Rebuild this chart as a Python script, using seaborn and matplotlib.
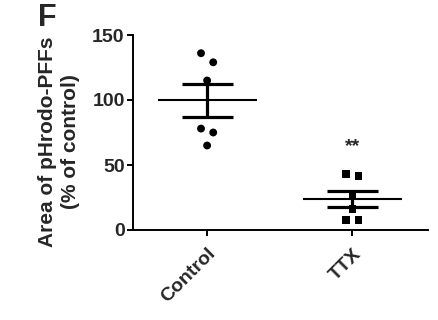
import numpy as np
import pandas as pd
import matplotlib
matplotlib.use("Agg")
import matplotlib.pyplot as plt
import seaborn as sns

# ---- data ----
groups = ["Control", "TTX"]
control_vals = [136, 129, 115, 78, 75, 65]
ttx_vals = [43, 41.5, 27, 16, 8, 8]
y_ticks = [0, 50, 100, 150]
y_label = "Area of pHrodo-PFFs\n(% of control)"
panel_letter = "F"
sig_label = "**"

sns.set_style("ticks")
plt.rcParams["font.family"] = ["Liberation Sans", "DejaVu Sans"]
plt.rcParams["font.weight"] = "bold"


def spread(vals, thresh=8.0, step=0.042):
    """symmetric horizontal spread for near-equal values (GraphPad-like)."""
    order = np.argsort(vals)[::-1]
    offs = np.zeros(len(vals))
    i = 0
    while i < len(order):
        j = i + 1
        if j < len(order) and abs(vals[order[i]] - vals[order[j]]) < thresh:
            offs[order[i]] = -step
            offs[order[j]] = step
            i += 2
        else:
            i += 1
    return offs


rows = []
for gi, (g, vals) in enumerate(zip(groups, [control_vals, ttx_vals])):
    offs = spread(np.array(vals, dtype=float))
    for v, o in zip(vals, offs):
        rows.append({"group": g, "x": gi + o, "value": v})
df = pd.DataFrame(rows)

fig = plt.figure(figsize=(4.38, 3.2), dpi=100)
ax = fig.add_axes([133 / 438, 1 - 230 / 320, 295 / 438, 195 / 320])

sns.scatterplot(data=df, x="x", y="value", style="group", markers={"Control": "o", "TTX": "s"},
                color="black", s=32, linewidth=0, legend=False, ax=ax, clip_on=False, zorder=3)

for gi, vals in enumerate([control_vals, ttx_vals]):
    v = np.array(vals, dtype=float)
    m = v.mean()
    se = v.std(ddof=1) / np.sqrt(len(v))
    ax.hlines(m, gi - 0.34, gi + 0.34, color="black", lw=1.5, zorder=4)
    ax.hlines([m - se, m + se], gi - 0.175, gi + 0.175, color="black", lw=2.3, zorder=4)
    ax.vlines(gi, m - se, m + se, color="black", lw=2.3, zorder=4)

ax.text(1, 61, sig_label, ha="center", va="baseline", fontsize=14, fontweight="bold")

ax.set_xlim(-0.51, 1.52)
ax.set_ylim(0, 150)
ax.set_yticks(y_ticks)
ax.set_yticklabels([str(t) for t in y_ticks], fontsize=14, fontweight="bold")
ax.set_xticks(range(len(groups)))
ax.set_xticklabels(groups, fontsize=14, fontweight="bold", rotation=45, ha="right",
                   rotation_mode="anchor")
ax.set_xlabel("")
ax.set_ylabel("")
ax.tick_params(axis="both", length=4, width=1.4, color="black")
ax.tick_params(axis="y", pad=2)
ax.tick_params(axis="x", pad=7)
for side in ["top", "right"]:
    ax.spines[side].set_visible(False)
for side in ["left", "bottom"]:
    ax.spines[side].set_linewidth(1.4)
    ax.spines[side].set_color("black")

fig.text(59 / 438, 1 - 142 / 320, y_label, rotation=90, ha="center", va="center",
         fontsize=15, fontweight="bold", linespacing=1.2)
fig.text(38 / 438, 1 - 3 / 320, panel_letter, ha="left", va="top", fontsize=22, fontweight="bold")

fig.savefig("out.png", dpi=100, facecolor="white")
